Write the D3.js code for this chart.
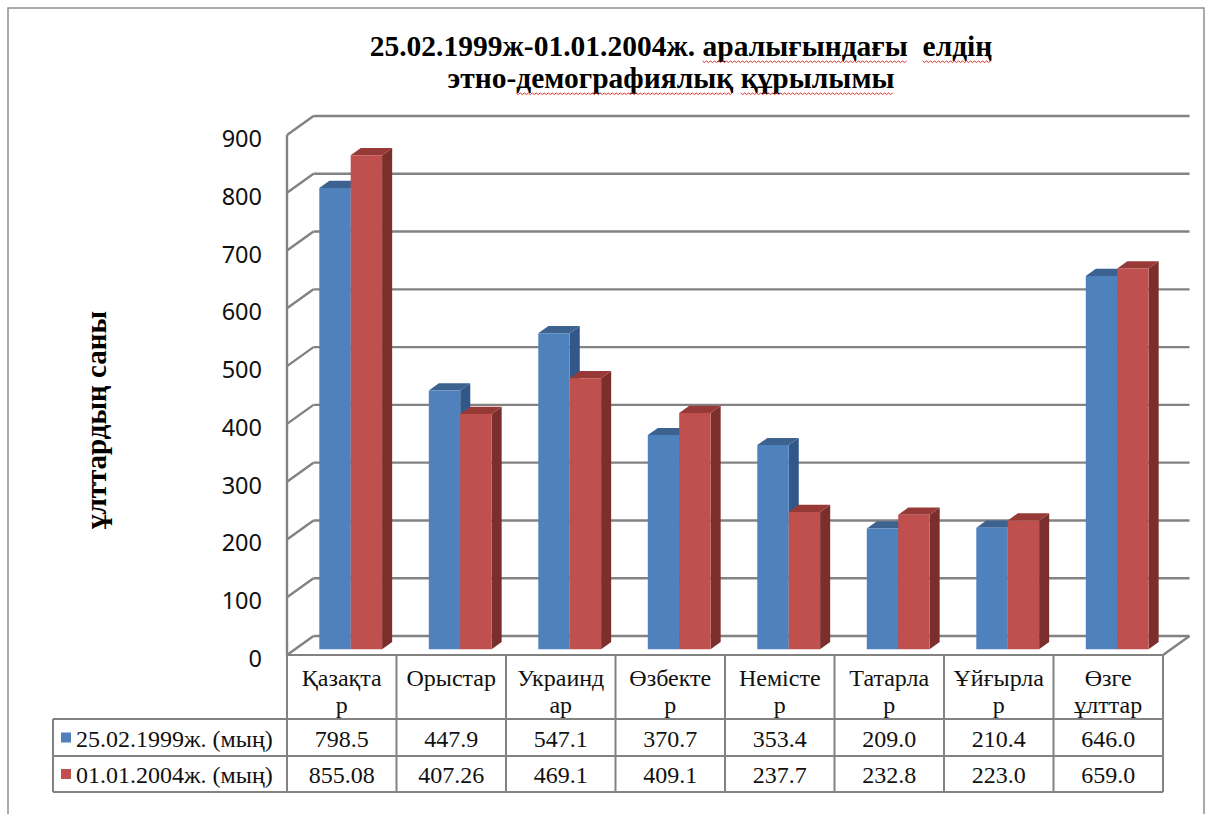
<!DOCTYPE html>
<html>
<head>
<meta charset="utf-8">
<script src="https://cdn.jsdelivr.net/npm/d3@7"></script>
<style>
  body { margin: 0; background: #fff; }
  svg { display: block; }
  .serif { font-family: "Liberation Serif", "DejaVu Serif", serif; }
  .sans { font-family: "Noto Sans", sans-serif; }
</style>
</head>
<body>
<script>
// chart data
const categories = ["Қазақтар", "Орыстар", "Украиндар", "Өзбектер", "Немістер", "Татарлар", "Ұйғырлар", "Өзге ұлттар"];
// category labels as they wrap in the table header
const categoryLines = [["Қазақта", "р"], ["Орыстар"], ["Украинд", "ар"], ["Өзбекте", "р"], ["Немісте", "р"], ["Татарла", "р"], ["Ұйғырла", "р"], ["Өзге", "ұлттар"]];
const seriesNames = ["25.02.1999ж. (мың)", "01.01.2004ж. (мың)"];
const values1999 = [798.5, 447.9, 547.1, 370.7, 353.4, 209.0, 210.4, 646.0];
const values2004 = [855.08, 407.26, 469.1, 409.1, 237.7, 232.8, 223.0, 659.0];
const titleLines = ["25.02.1999ж-01.01.2004ж. аралығындағы  елдің", "этно-демографиялық құрылымы"];
const yTitle = "ұлттардың саны";

const series = [
    { name: seriesNames[0], values: values1999, front: "#4f81bd", top: "#3c6290", side: "#32588a" },
    { name: seriesNames[1], values: values2004, front: "#c0504d", top: "#973a37", side: "#7b2f2d" }
];

const W = 1212, H = 814;
const svg = d3.select("body").append("svg")
    .attr("width", W)
    .attr("height", H);

// depth of the 3d box and where the bars sit inside it
const DX = 26.5, DY = 19;
const fz = 0.3, bz = 0.68;

const x = d3.scaleBand().domain(categories).range([287, 1163]);
const y = d3.scaleLinear().domain([0, 900]).range([655, 135]);
const bw = x.bandwidth();
const barW = 31.4;
const xs = d3.scaleBand().domain(seriesNames).range([bw / 2 - barW + 1, bw / 2 + barW + 1]);

const gray = "#828282";

// outer frame
svg.append("path")
    .attr("d", "M8,814 V8 H1204 V814")
    .attr("fill", "none")
    .attr("stroke", "#8f8f8f")
    .attr("stroke-width", 1.5);

// title
const titlePos = [[681, 56], [671, 88]];
const underlined = [["аралығындағы", "елдің"], ["демографиялық", "құрылымы"]];

titleLines.forEach((t, i) => {
    const txt = svg.append("text")
        .attr("class", "serif")
        .attr("x", titlePos[i][0])
        .attr("y", titlePos[i][1])
        .attr("text-anchor", "middle")
        .style("font-weight", "bold")
        .style("font-size", "29.5px")
        .style("white-space", "pre")
        .text(t);
    // red wavy spell-check underline
    const node = txt.node();
    const x0 = node.getStartPositionOfChar(0).x;
    underlined[i].forEach(word => {
        const idx = t.indexOf(word);
        const a = x0 + node.getSubStringLength(0, idx);
        const len = node.getSubStringLength(idx, word.length);
        let d = "M" + a + "," + (titlePos[i][1] + 5);
        for (let k = 2; k <= len; k += 2) {
            d += "L" + (a + k) + "," + (titlePos[i][1] + 5 + ((k / 2) % 2 ? 1.5 : 0));
        }
        svg.append("path")
            .attr("d", d)
            .attr("fill", "none")
            .attr("stroke", "#e0302a")
            .attr("stroke-width", 1);
    });
});

// walls and gridlines
const ticks = y.ticks(9);
const grid = svg.append("g")
    .attr("stroke", gray)
    .attr("stroke-width", 2.4)
    .attr("fill", "none");

grid.selectAll(".back")
    .data(ticks)
    .enter()
    .append("line")
    .attr("x1", 287 + DX)
    .attr("x2", 1163 + DX)
    .attr("y1", d => y(d) - DY)
    .attr("y2", d => y(d) - DY);

grid.selectAll(".side")
    .data(ticks)
    .enter()
    .append("line")
    .attr("x1", 287)
    .attr("x2", 287 + DX)
    .attr("y1", d => y(d))
    .attr("y2", d => y(d) - DY);

grid.append("line")
    .attr("x1", 287).attr("x2", 287)
    .attr("y1", y(900)).attr("y2", y(0));

grid.append("path")
    .attr("d", `M${1163},${y(0)} L${1163 + DX},${y(0) - DY}`);

// y tick labels
svg.append("g")
    .selectAll("text")
    .data(ticks)
    .enter()
    .append("text")
    .attr("class", "sans")
    .attr("x", 262)
    .attr("y", d => y(d) + 3)
    .attr("text-anchor", "end")
    .attr("dominant-baseline", "central")
    .style("font-size", "23.5px")
    .attr("fill", "#111")
    .text(d => d);

// y axis title
svg.append("text")
    .attr("class", "serif")
    .attr("transform", "translate(106,420) rotate(-90)")
    .attr("text-anchor", "middle")
    .style("font-weight", "bold")
    .style("font-size", "29px")
    .text(yTitle);

// 3d bars, left to right so side faces get covered by the next bar
const pt = (px, v, t) => [px + t * DX, y(v) - t * DY];
const poly = pts => "M" + pts.map(p => p.join(",")).join("L") + "Z";

const bars = svg.append("g");
categories.forEach((c, i) => {
    series.forEach(s => {
        const v = s.values[i];
        const l = x(c) + xs(s.name);
        const r = l + barW;
        const g = bars.append("g");
        g.append("path")
            .attr("d", poly([pt(r, 0, fz), pt(r, 0, bz), pt(r, v, bz), pt(r, v, fz)]))
            .attr("fill", s.side);
        g.append("path")
            .attr("d", poly([pt(l, v, fz), pt(r, v, fz), pt(r, v, bz), pt(l, v, bz)]))
            .attr("fill", s.top);
        g.append("path")
            .attr("d", poly([pt(l, 0, fz), pt(r, 0, fz), pt(r, v, fz), pt(l, v, fz)]))
            .attr("fill", s.front);
    });
});

// data table
const tTop = 655, hBot = 719, r1Bot = 756, r2Bot = 792, tLeft = 53;
const table = svg.append("g")
    .attr("stroke", gray)
    .attr("stroke-width", 2)
    .attr("fill", "none");

table.append("line").attr("x1", 287).attr("x2", 1163).attr("y1", tTop).attr("y2", tTop);
[hBot, r1Bot, r2Bot].forEach(yy => {
    table.append("line").attr("x1", tLeft).attr("x2", 1163).attr("y1", yy).attr("y2", yy);
});
table.append("line").attr("x1", tLeft).attr("x2", tLeft).attr("y1", hBot).attr("y2", r2Bot);
categories.concat([null]).forEach((c, i) => {
    const xx = 287 + i * bw;
    table.append("line").attr("x1", xx).attr("x2", xx).attr("y1", tTop).attr("y2", r2Bot);
});

const texts = svg.append("g")
    .attr("fill", "#111");

categories.forEach((c, i) => {
    categoryLines[i].forEach((ln, j) => {
        texts.append("text")
            .attr("class", "serif")
            .style("font-size", "24px")
            .attr("x", x(c) + bw / 2)
            .attr("y", 686 + j * 27)
            .attr("text-anchor", "middle")
            .text(ln);
    });
});

const fmt = v => Math.abs(Math.round(v * 10) - v * 10) < 1e-6 ? v.toFixed(1) : v.toFixed(2);
const rowMid = [(hBot + r1Bot) / 2, (r1Bot + r2Bot) / 2];

series.forEach((s, k) => {
    svg.append("rect")
        .attr("x", 61)
        .attr("y", rowMid[k] - 5)
        .attr("width", 10)
        .attr("height", 10)
        .attr("fill", s.front);
    texts.append("text")
        .attr("class", "serif")
        .style("font-size", "24px")
        .attr("x", 76)
        .attr("y", rowMid[k] + 1)
        .attr("dominant-baseline", "central")
        .text(s.name);
    texts.selectAll(null)
        .data(s.values)
        .enter()
        .append("text")
        .attr("class", "serif")
        .style("font-size", "24px")
        .attr("x", (d, i) => x(categories[i]) + bw / 2)
        .attr("y", rowMid[k] + 1)
        .attr("text-anchor", "middle")
        .attr("dominant-baseline", "central")
        .text(d => fmt(d));
});
</script>
</body>
</html>
